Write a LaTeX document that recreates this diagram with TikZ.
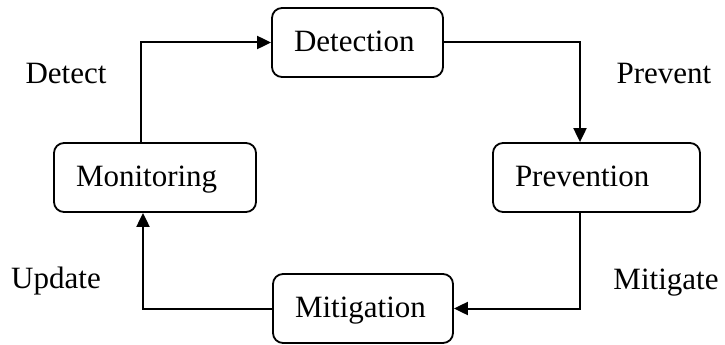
\documentclass[tikz,border=0pt]{standalone}
\usepackage{fontspec}
\setmainfont{Liberation Serif}
\usetikzlibrary{arrows.meta}
\begin{document}
\begin{tikzpicture}[x=1pt,y=-1pt,
  every node/.style={font=\fontsize{31}{36}\selectfont},
  box/.style={draw,rounded corners=10pt,line width=1.8pt,minimum height=69pt,
    inner xsep=22pt,inner ysep=0pt,align=left,text height=21pt,text depth=3pt},
  arr/.style={line width=2pt,-{Triangle[length=14pt,width=13pt]}},
  lbl/.style={anchor=base}]
\useasboundingbox (0,0) rectangle (725,345);
\node[box,text width=127pt] (det) at (357.5,42.5) {Detection};
\node[box,text width=163pt] (prev) at (596.5,177.5) {Prevention};
\node[box,text width=158pt] (mon) at (155,177.5) {Monitoring};
\node[box,text width=136pt] (mit) at (363,308.5) {Mitigation};
\draw[arr] ([xshift=-14pt]mon.north) |- (det.west);
\draw[arr] (det.east) -| ([xshift=-16.5pt]prev.north);
\draw[arr] ([xshift=-16.5pt]prev.south) |- (mit.east);
\draw[arr] (mit.west) -| ([xshift=-12pt]mon.south);
\node[lbl] (ldet) at (66,83) {Detect};
\node[lbl] (lprev) at (664,83) {Prevent};
\node[lbl] (lupd) at (56,288) {Update};
\node[lbl] (lmit) at (666,289) {Mitigate};
\end{tikzpicture}
\end{document}
